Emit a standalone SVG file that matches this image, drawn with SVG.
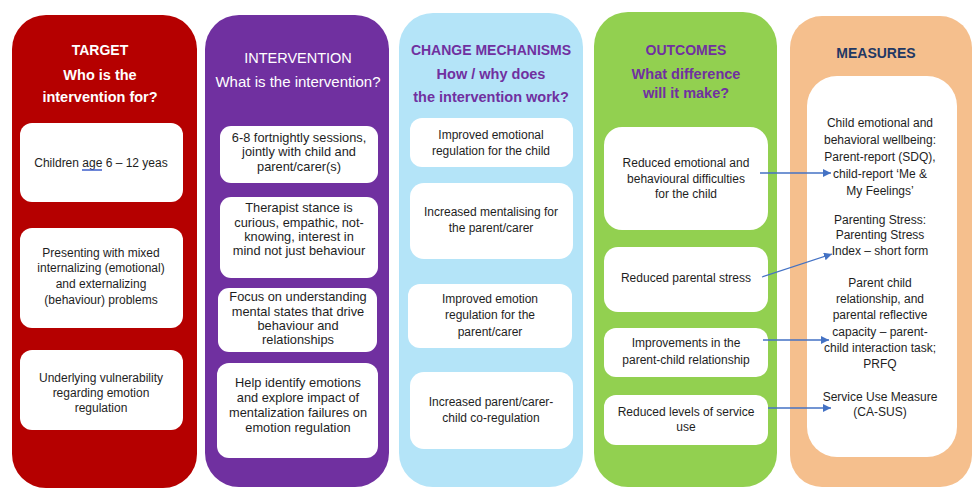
<svg xmlns="http://www.w3.org/2000/svg" width="972" height="489" viewBox="0 0 972 489">
<style>
text{font-family:"Liberation Sans",Arial,sans-serif;text-anchor:middle}
.box{fill:#fff}
.t{font-size:12px;fill:#1e1e1e}
.ti{font-size:12.8px;fill:#1e1e1e}
.tm{font-size:12px;fill:#1e1e1e}
.h{font-size:14px;font-weight:bold}
.hs{font-size:14.5px;font-weight:bold}
.w{fill:#fff}
.p{fill:#7030A0}
.conn{stroke:#4472C4;stroke-width:1.3;fill:none}
</style>
<defs>
<marker id="ah" viewBox="0 0 10 10" refX="10" refY="5" markerWidth="8" markerHeight="8" markerUnits="userSpaceOnUse" orient="auto">
<path d="M0,0 L10,5 L0,10 z" fill="#4472C4"/>
</marker>
</defs>
<rect width="972" height="489" fill="#fff"/>

<g id="target">
<rect x="12" y="15" width="185" height="473" rx="34" fill="#B50000"/>
<text x="100" y="55" class="h w">TARGET</text>
<text x="100" y="80" class="hs w">Who is the</text>
<text x="100" y="102" class="hs w">intervention for?</text>
<g id="target-1"><rect class="box" x="20" y="123" width="163" height="79" rx="12"/>
<text x="101" y="167" class="t">Children age 6 – 12 yeas</text>
<line x1="82" y1="170" x2="102" y2="170" stroke="#2f52c8" stroke-width="1.4"/></g>
<g id="target-2"><rect class="box" x="20" y="228" width="163" height="100" rx="12"/>
<text x="101" y="257" class="t">Presenting with mixed</text>
<text x="101" y="272" class="t">internalizing (emotional)</text>
<text x="101" y="288" class="t">and externalizing</text>
<text x="101" y="304" class="t">(behaviour) problems</text></g>
<g id="target-3"><rect class="box" x="20" y="350" width="163" height="80" rx="12"/>
<text x="101" y="382" class="t">Underlying vulnerability</text>
<text x="101" y="397" class="t">regarding emotion</text>
<text x="101" y="412" class="t">regulation</text></g>
</g>

<g id="intervention">
<rect x="205" y="15" width="184" height="472" rx="34" fill="#7030A0"/>
<text x="298" y="63" style="font-size:14.5px" class="w">INTERVENTION</text>
<text x="298" y="87" style="font-size:15px" class="w">What is the intervention?</text>
<g id="int-1"><rect class="box" x="220" y="126" width="158" height="57" rx="11"/>
<text x="299" y="142" class="ti">6-8 fortnightly sessions,</text>
<text x="299" y="156" class="ti">jointly with child and</text>
<text x="299" y="171" class="ti">parent/carer(s)</text></g>
<g id="int-2"><rect class="box" x="220" y="197" width="158" height="81" rx="11"/>
<text x="299" y="212" class="ti">Therapist stance is</text>
<text x="299" y="227" class="ti">curious, empathic, not-</text>
<text x="299" y="241" class="ti">knowing, interest in</text>
<text x="299" y="255" class="ti">mind not just behaviour</text></g>
<g id="int-3"><rect class="box" x="218" y="288" width="159" height="64" rx="11"/>
<text x="298" y="301" class="ti">Focus on understanding</text>
<text x="298" y="316" class="ti">mental states that drive</text>
<text x="298" y="330" class="ti">behaviour and</text>
<text x="298" y="344" class="ti">relationships</text></g>
<g id="int-4"><rect class="box" x="217" y="363" width="161" height="95" rx="12"/>
<text x="298" y="387" class="ti">Help identify emotions</text>
<text x="298" y="402" class="ti">and explore impact of</text>
<text x="298" y="417" class="ti">mentalization failures on</text>
<text x="298" y="432" class="ti">emotion regulation</text></g>
</g>

<g id="mechanisms">
<rect x="399" y="13" width="184" height="474" rx="34" fill="#B4E4F8"/>
<text x="491" y="55" class="h p">CHANGE MECHANISMS</text>
<text x="491" y="79" class="hs p">How / why does</text>
<text x="491" y="102" class="hs p">the intervention work?</text>
<g id="mech-1"><rect class="box" x="410" y="118" width="163" height="49" rx="12"/>
<text x="491" y="139" class="t">Improved emotional</text>
<text x="491" y="155" class="t">regulation for the child</text></g>
<g id="mech-2"><rect class="box" x="410" y="183" width="163" height="76" rx="14"/>
<text x="491" y="216" class="t">Increased mentalising for</text>
<text x="491" y="232" class="t">the parent/carer</text></g>
<g id="mech-3"><rect class="box" x="408" y="284" width="164" height="64" rx="12"/>
<text x="490" y="303" class="t">Improved emotion</text>
<text x="490" y="319" class="t">regulation for the</text>
<text x="490" y="336" class="t">parent/carer</text></g>
<g id="mech-4"><rect class="box" x="410" y="372" width="163" height="77" rx="14"/>
<text x="491" y="406" class="t">Increased parent/carer-</text>
<text x="491" y="422" class="t">child co-regulation</text></g>
</g>

<g id="outcomes">
<rect x="594" y="12" width="183" height="475" rx="34" fill="#92D050"/>
<text x="686" y="55" class="h p">OUTCOMES</text>
<text x="686" y="79" class="hs p">What difference</text>
<text x="686" y="98" class="hs p">will it make?</text>
<g id="out-1"><rect class="box" x="604" y="127" width="164" height="103" rx="18"/>
<text x="686" y="167" class="t">Reduced emotional and</text>
<text x="686" y="183" class="t">behavioural difficulties</text>
<text x="686" y="198" class="t">for the child</text></g>
<g id="out-2"><rect class="box" x="604" y="247" width="164" height="65" rx="14"/>
<text x="686" y="282" class="t">Reduced parental stress</text></g>
<g id="out-3"><rect class="box" x="604" y="328" width="164" height="49" rx="12"/>
<text x="686" y="347" class="t">Improvements in the</text>
<text x="686" y="364" class="t">parent-child relationship</text></g>
<g id="out-4"><rect class="box" x="604" y="395" width="164" height="50" rx="12"/>
<text x="686" y="416" class="t">Reduced levels of service</text>
<text x="686" y="431" class="t">use</text></g>
</g>

<g id="measures">
<rect x="790" y="16" width="182" height="471" rx="32" fill="#F5BF8D"/>
<text x="876" y="58" class="h" style="fill:#1F3864">MEASURES</text>
<rect class="box" x="807" y="76" width="150" height="381" rx="30"/>
<g id="meas-1">
<text x="880" y="127" class="tm">Child emotional and</text>
<text x="880" y="144" class="tm">behavioral wellbeing:</text>
<text x="880" y="161" class="tm">Parent-report (SDQ),</text>
<text x="880" y="178" class="tm">child-report ‘Me &amp;</text>
<text x="880" y="195" class="tm">My Feelings’</text></g>
<g id="meas-2">
<text x="880" y="224" class="tm">Parenting Stress:</text>
<text x="880" y="239" class="tm">Parenting Stress</text>
<text x="880" y="255" class="tm">Index – short form</text></g>
<g id="meas-3">
<text x="880" y="287" class="tm">Parent child</text>
<text x="880" y="303" class="tm">relationship, and</text>
<text x="880" y="319" class="tm">parental reflective</text>
<text x="880" y="336" class="tm">capacity – parent-</text>
<text x="880" y="352" class="tm">child interaction task;</text>
<text x="880" y="368" class="tm">PRFQ</text></g>
<g id="meas-4">
<text x="880" y="401" class="tm">Service Use Measure</text>
<text x="880" y="416" class="tm">(CA-SUS)</text></g>
</g>

<g id="connectors">
<line class="conn" x1="760" y1="173" x2="831" y2="173" marker-end="url(#ah)"/>
<line class="conn" x1="762" y1="277" x2="832" y2="254" marker-end="url(#ah)"/>
<line class="conn" x1="763" y1="340" x2="829" y2="340" marker-end="url(#ah)"/>
<line class="conn" x1="768" y1="408" x2="831" y2="408" marker-end="url(#ah)"/>
</g>
</svg>
